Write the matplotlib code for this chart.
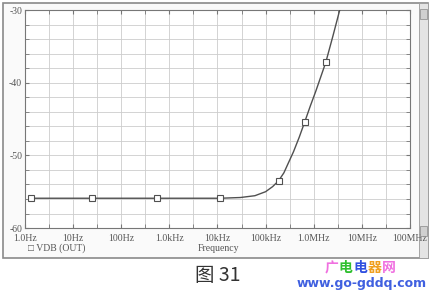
import matplotlib
matplotlib.use('Agg')
import matplotlib.pyplot as plt
import matplotlib.patches as mpatches
from matplotlib.ticker import FixedLocator, NullFormatter
import numpy as np

# curve (frequency in Hz, VDB(OUT) in dB)
freq = [1.33, 25, 560, 11500, 30000, 60000, 100000, 140000, 186000, 240000, 290000,
        380000, 500000, 650000, 850000, 1100000, 1400000, 1780000, 2500000, 3470000]
vdb = [-55.9, -55.9, -55.9, -55.9, -55.8, -55.55, -55.0, -54.3, -53.5, -52.4, -51.2,
       -49.5, -47.5, -45.4, -43.2, -41.2, -39.2, -37.2, -33.6, -30.0]

# points that carry a square marker
mark_freq = [1.33, 25, 560, 11500, 186000, 650000, 1780000]
mark_vdb = [-55.9, -55.9, -55.9, -55.9, -53.5, -45.4, -37.2]

xticks = [1, 10, 100, 1e3, 1e4, 1e5, 1e6, 1e7, 1e8]
xlabels = ['1.0Hz', '10Hz', '100Hz', '1.0kHz', '10kHz', '100kHz', '1.0MHz', '10MHz', '100MHz']
yticks = [-60, -50, -40, -30]

fig = plt.figure(figsize=(4.36, 2.95), dpi=100)
fig.patch.set_facecolor('white')

# window frame and scrollbar
frame = mpatches.Rectangle((0.006, 0.125), 0.975, 0.865, transform=fig.transFigure,
                           facecolor='#fafafa', edgecolor='#8a8a8a', lw=1.2, zorder=0)
fig.add_artist(frame)
sbar = mpatches.Rectangle((0.962, 0.125), 0.019, 0.865, transform=fig.transFigure,
                          facecolor='#e4e4e4', edgecolor='#9a9a9a', lw=0.6, zorder=0)
fig.add_artist(sbar)
for yb in (0.935, 0.2):
    fig.add_artist(mpatches.Rectangle((0.964, yb), 0.015, 0.035, transform=fig.transFigure,
                                      facecolor='#d0d0d0', edgecolor='#888888', lw=0.5))

ax = fig.add_axes([0.0573, 0.227, 0.883, 0.739])
ax.set_facecolor('white')
ax.set_xscale('log')
ax.set_xlim(1, 1e8)
ax.set_ylim(-60, -30)

ax.plot(freq, vdb, color='#505050', lw=1.0, zorder=3)
ax.plot(mark_freq, mark_vdb, ls='none', marker='s', ms=4.5, mfc='white',
        mec='#505050', mew=0.8, zorder=4)

ax.xaxis.set_major_locator(FixedLocator(xticks))
ax.xaxis.set_minor_locator(FixedLocator([10 ** (k + 0.5) for k in range(8)]))
ax.xaxis.set_minor_formatter(NullFormatter())
ax.set_xticklabels(xlabels)
ax.yaxis.set_major_locator(FixedLocator(yticks))
ax.yaxis.set_minor_locator(FixedLocator(np.arange(-58, -30, 2)))
ax.set_yticklabels([str(v) for v in yticks])

ax.grid(True, which='both', color='#cccccc', lw=0.6)
ax.tick_params(which='both', direction='in', length=3, color='#777777',
               top=True, right=True, labelsize=7, labelcolor='#555555')
ax.tick_params(axis='x', pad=4)
ax.tick_params(axis='y', pad=2)
for lab in ax.get_xticklabels() + ax.get_yticklabels():
    lab.set_family('Liberation Serif')
for s in ax.spines.values():
    s.set_color('#777777')
    s.set_linewidth(0.8)

fig.text(0.064, 0.158, '\u25a1 VDB (OUT)', family=['Liberation Serif', 'DejaVu Sans'],
         fontsize=7, color='#555555', va='center')
fig.text(0.50, 0.158, 'Frequency', family='Liberation Serif',
         fontsize=7, color='#555555', va='center', ha='center')

# caption and watermark
fig.text(0.50, 0.065, '图 31', family=['Noto Sans CJK SC', 'DejaVu Sans'],
         fontsize=14, color='#333333', ha='center', va='center')
wm_chars = ['广', '电', '电', '器', '网']
wm_colors = ['#f070e0', '#30c030', '#3050e0', '#f0a020', '#f070e0']
for i, (ch, c) in enumerate(zip(wm_chars, wm_colors)):
    fig.text(0.76 + i * 0.033, 0.09, ch, family='Noto Sans CJK SC', fontsize=10,
             fontweight='bold', color=c, ha='center', va='center')
fig.text(0.83, 0.04, 'www.go-gddq.com', family='DejaVu Sans', fontsize=9,
         fontweight='bold', color='#4060e0', ha='center', va='center')

fig.savefig('out.png', dpi=100)
